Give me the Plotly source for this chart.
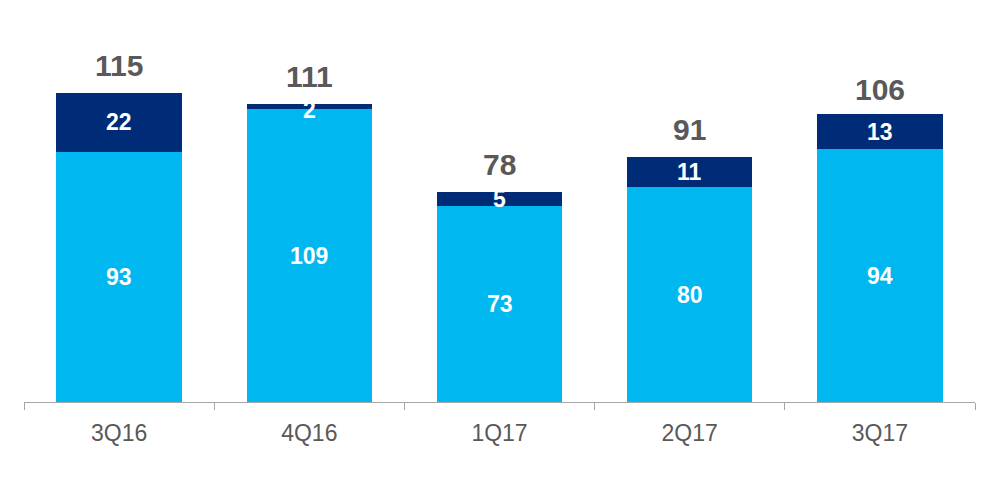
import plotly.graph_objects as go

# quarterly split: base segment (light blue) + top segment (navy)
quarters = ["3Q16", "4Q16", "1Q17", "2Q17", "3Q17"]
base_vals = [93, 109, 73, 80, 94]
top_vals = [22, 2, 5, 11, 13]
totals = [115, 111, 78, 91, 106]

LIGHT = "#00B7F0"
NAVY = "#002C77"
GREY_TXT = "#595959"
FONT = "Liberation Sans, Arial, sans-serif"

fig = go.Figure()
fig.add_bar(x=quarters, y=base_vals, marker_color=LIGHT, width=0.66,
            marker_line_width=0, hoverinfo="x+y", name="base")
fig.add_bar(x=quarters, y=top_vals, marker_color=NAVY, width=0.66,
            marker_line_width=0, hoverinfo="x+y", name="top")

# segment labels, centred in each piece
for q, b, t in zip(quarters, base_vals, top_vals):
    fig.add_annotation(x=q, y=b / 2, text=f"<b>{b}</b>", showarrow=False,
                       font=dict(family=FONT, size=23, color="white"))
    fig.add_annotation(x=q, y=b + t / 2, text=f"<b>{t}</b>", showarrow=False,
                       yshift=-4 if t < 4 else 0,
                       font=dict(family=FONT, size=23, color="white"))

# totals on top
for q, tot in zip(quarters, totals):
    fig.add_annotation(x=q, y=tot, text=f"<b>{tot}</b>", showarrow=False,
                       yanchor="bottom", yshift=9,
                       font=dict(family=FONT, size=30, color=GREY_TXT))

# page body adds an 8px margin, so the figure is sized to fit the window
fig.update_layout(
    barmode="stack",
    width=992, height=486,
    margin=dict(l=16, r=25, t=0, b=92),
    paper_bgcolor="white", plot_bgcolor="white",
    showlegend=False,
    font=dict(family=FONT, color=GREY_TXT),
    xaxis=dict(
        showline=True, linecolor="#A6A6A6", linewidth=1,
        ticks="outside", tickson="boundaries", ticklen=7, tickcolor="#A6A6A6",
        ticklabelstandoff=10,
        tickfont=dict(family=FONT, size=23, color=GREY_TXT),
        showgrid=False, automargin=False,
    ),
    yaxis=dict(range=[0, 146.6], visible=False, showgrid=False,
               automargin=False),
)

fig.write_html("out.html")
